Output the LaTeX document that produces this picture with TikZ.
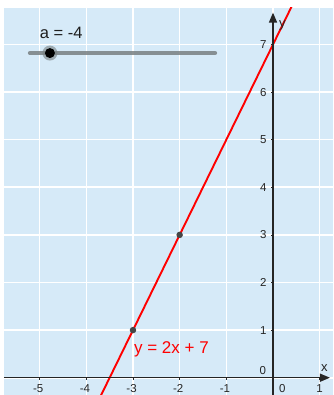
\documentclass[tikz,border=0pt]{standalone}
\usepackage{fontspec}
\setmainfont{Liberation Sans}
\usetikzlibrary{arrows.meta}
\definecolor{bgblue}{RGB}{214,234,248}
\definecolor{axisgray}{RGB}{37,37,37}
\definecolor{slidergray}{RGB}{120,128,130}
\tikzset{
  gridline/.style={white, line width=1.6pt},
  axisline/.style={axisgray, line width=1.5pt, -{Triangle[length=10pt,width=8pt]}},
  ticklbl/.style={font=\fontsize{11.5}{12}\selectfont, text=axisgray, inner sep=0pt},
  dotpt/.style={circle, fill=axisgray!85, inner sep=0pt, minimum size=6.5pt},
  redline/.style={red, line width=1.9pt},
}
\begin{document}
\begin{tikzpicture}[x=46.67pt, y=47.6pt]
% bounding box: px 0..333 x 0..395, origin at px (273,377.7)
\useasboundingbox (-5.8496,-0.3634) rectangle (1.2856,7.9349);
\fill[white] (-5.8496,-0.3634) rectangle (1.2856,7.9349);
\fill[bgblue] (-5.764,-0.3634) rectangle (1.2856,7.767);
% grid
\foreach \i in {-5,...,1} \draw[gridline] (\i,-0.3634) -- (\i,7.767);
\foreach \j in {0,...,7} \draw[gridline] (-5.764,\j) -- (1.2856,\j);
% red line clipped
\begin{scope}
\clip (-5.764,-0.3634) rectangle (1.2856,7.767);
\draw[redline] (-3.75,-0.5) coordinate (lA) -- (0.45,7.9) coordinate (lB);
\end{scope}
% axes
\coordinate (xs) at (-5.764,0);
\coordinate (xe) at (1.22,0);
\coordinate (ys) at (0,-0.3634);
\coordinate (ye) at (0,7.67);
\draw[axisline] (xs) -- (xe);
\draw[axisline] (ys) -- (ye);
% ticks
\foreach \i in {-5,...,-1,1} \draw[axisgray, line width=0.7pt] (\i,0) -- (\i,-0.05);
\foreach \j in {1,...,7} \draw[axisgray, line width=0.7pt] (0,\j) -- (-0.05,\j);
% x tick labels
\foreach \i in {-5,...,-1} \node[ticklbl] (xl\i) at (\i-0.03,-0.23) {-\the\numexpr-\i\relax};
\node[ticklbl] (xl0) at (0.2,-0.23) {0};
\node[ticklbl] (xl1) at (1,-0.23) {1};
% y tick labels
\foreach \j in {1,...,7} \node[ticklbl] (yl\j) at (-0.21,\j) {\j};
\node[ticklbl] (yl0) at (-0.22,0.15) {0};
\node[ticklbl, font=\fontsize{13}{14}\selectfont] (xlab) at (1.1,0.2) {x};
\node[ticklbl, font=\fontsize{13}{14}\selectfont] (ylab) at (0.2,7.4) {y};
% points
\node[dotpt] (p1) at (-3,1) {};
\node[dotpt] (p2) at (-2,3) {};
% equation label
\node[red, font=\fontsize{17}{18}\selectfont, anchor=west, inner sep=0pt] (eq) at (-2.98,0.6) {y = 2x + 7};
% slider
\coordinate (s1) at (-5.21,6.82);
\coordinate (s2) at (-1.24,6.82);
\draw[slidergray, line width=4pt, line cap=round, opacity=0.85] (s1) -- (s2);
\node[circle, fill=slidergray, opacity=0.6, inner sep=0pt, minimum size=15pt] (knobhalo) at (-4.78,6.82) {};
\node[circle, fill=black, inner sep=0pt, minimum size=10pt] (knob) at (-4.78,6.82) {};
\node[font=\fontsize{16.5}{17}\selectfont, anchor=west, inner sep=0pt, text=axisgray!80!black] (alab) at (-5.0,7.24) {a = -4};
\end{tikzpicture}
\end{document}
